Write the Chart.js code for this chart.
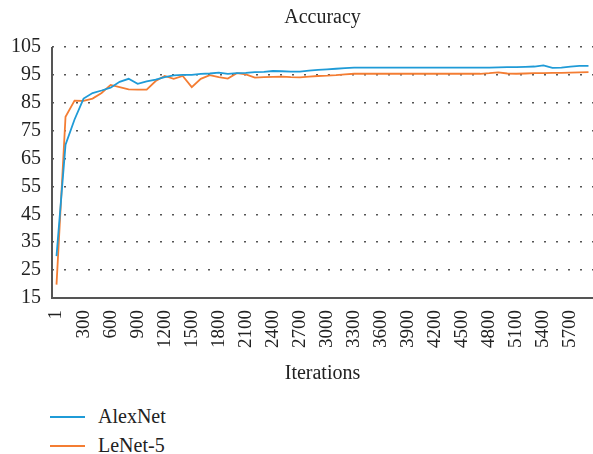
<!DOCTYPE html>
<html>
<head>
<meta charset="utf-8">
<script src="https://cdn.jsdelivr.net/npm/chart.js@4.4.1/dist/chart.umd.min.js"></script>
<style>
  html, body { margin: 0; padding: 0; background: #fff; }
  #wrap { position: relative; width: 593px; height: 454px; overflow: hidden; }
  #cwrap { position: absolute; left: 0; top: 0; width: 593px; height: 394px; }
  #legend { position: absolute; left: 50px; top: 402px; font-family: "Liberation Serif", "DejaVu Serif", serif; font-size: 20px; color: #222; }
  .item { display: flex; align-items: center; height: 29px; }
  .swatch { width: 35px; height: 2px; margin-right: 13px; }
</style>
</head>
<body>
<div id="wrap">
  <div id="cwrap"><canvas id="c"></canvas></div>
  <div id="legend"></div>
</div>
<script>
const iterations = [1,100,200,300,400,500,600,700,800,900,1000,1100,1200,1300,1400,1500,1600,1700,1800,1900,2000,2100,2200,2300,2400,2500,2600,2700,2800,2900,3000,3100,3200,3300,3400,3500,3600,3700,3800,3900,4000,4100,4200,4300,4400,4500,4600,4700,4800,4900,5000,5100,5200,5300,5400,5500,5600,5700,5800,5900];

const alexNet = [30,70,79,86.5,88.5,89.4,90.4,92.5,93.6,91.8,92.7,93.3,94.2,94.8,95,95,95.4,95.5,95.8,95.4,95.6,95.7,96,96.1,96.4,96.3,96.2,96.2,96.5,96.8,97.0,97.2,97.4,97.6,97.6,97.6,97.6,97.6,97.6,97.6,97.6,97.6,97.6,97.6,97.6,97.6,97.6,97.6,97.6,97.7,97.8,97.8,97.9,98.0,98.4,97.5,97.6,98.0,98.2,98.2];

const leNet5 = [19.8,80,85.8,85.7,86.5,88.5,91.4,90.6,89.8,89.7,89.7,92.8,94.6,93.6,94.6,90.6,93.6,94.9,94.2,93.7,95.6,95.2,94,94.2,94.3,94.4,94.2,94.1,94.4,94.6,94.7,94.9,95.2,95.4,95.4,95.4,95.4,95.4,95.4,95.4,95.4,95.4,95.4,95.4,95.4,95.4,95.4,95.4,95.6,95.9,95.5,95.4,95.5,95.6,95.6,95.7,95.7,95.8,95.9,96];

const seriesNames = ["AlexNet", "LeNet-5"];
const yTicks = [15,25,35,45,55,65,75,85,95,105];

const serif = "'Liberation Serif', 'DejaVu Serif', serif";
const textColor = "#222222";
const axisColor = "#555555";

// draws a solid left axis line (grid dash would otherwise affect it)
const solidYAxis = {
  id: 'solidYAxis',
  afterDatasetsDraw(chart) {
    const { ctx, chartArea } = chart;
    ctx.save();
    ctx.setLineDash([]);
    ctx.strokeStyle = axisColor;
    ctx.lineWidth = 2;
    ctx.beginPath();
    ctx.moveTo(chartArea.left, chartArea.top);
    ctx.lineTo(chartArea.left, chartArea.bottom + 1);
    ctx.stroke();
    ctx.restore();
  }
};

const chart = new Chart(document.getElementById('c'), {
  type: 'line',
  data: {
    labels: iterations,
    datasets: [
      { label: seriesNames[0], data: alexNet, borderColor: '#1f9bd7', backgroundColor: '#1f9bd7', borderWidth: 1.8, pointRadius: 0, tension: 0 },
      { label: seriesNames[1], data: leNet5, borderColor: '#f47d33', backgroundColor: '#f47d33', borderWidth: 1.8, pointRadius: 0, tension: 0 }
    ]
  },
  plugins: [solidYAxis],
  options: {
    responsive: true,
    maintainAspectRatio: false,
    animation: false,
    layout: { padding: { left: 0, right: -4, top: 2, bottom: 8 } },
    plugins: {
      legend: { display: false },
      tooltip: { enabled: false },
      title: {
        display: true,
        fullSize: false,
        text: 'Accuracy',
        color: textColor,
        font: { family: serif, size: 20, weight: 'normal' },
        padding: { top: 4, bottom: 17 }
      }
    },
    scales: {
      x: {
        type: 'category',
        offset: true,
        grid: { display: false, drawTicks: false },
        border: { display: true, color: axisColor, width: 2 },
        afterFit: (axis) => { axis.paddingRight = 0; },
        ticks: {
          autoSkip: false,
          maxRotation: 90,
          minRotation: 90,
          padding: 12,
          color: textColor,
          font: { family: serif, size: 19 },
          callback: function(val, idx) { return idx % 3 === 0 ? this.getLabelForValue(val) : ''; }
        },
        title: {
          display: true,
          text: 'Iterations',
          color: textColor,
          font: { family: serif, size: 20 },
          padding: { top: 2, bottom: 0 }
        }
      },
      y: {
        min: yTicks[0],
        max: yTicks[yTicks.length - 1],
        afterBuildTicks: (axis) => { axis.ticks = yTicks.map(v => ({ value: v })); },
        grid: {
          color: axisColor,
          lineWidth: 1.5,
          drawTicks: false
        },
        border: { display: false, color: axisColor, width: 2, dash: [2, 10] },
        ticks: {
          autoSkip: false,
          padding: 11,
          color: textColor,
          font: { family: serif, size: 20 }
        }
      }
    }
  }
});

// HTML legend built from the chart's datasets
const legendEl = document.getElementById('legend');
chart.data.datasets.forEach(ds => {
  const it = document.createElement('div');
  it.className = 'item';
  const sw = document.createElement('span');
  sw.className = 'swatch';
  sw.style.background = ds.borderColor;
  const tx = document.createElement('span');
  tx.textContent = ds.label;
  it.appendChild(sw); it.appendChild(tx);
  legendEl.appendChild(it);
});
</script>
</body>
</html>
